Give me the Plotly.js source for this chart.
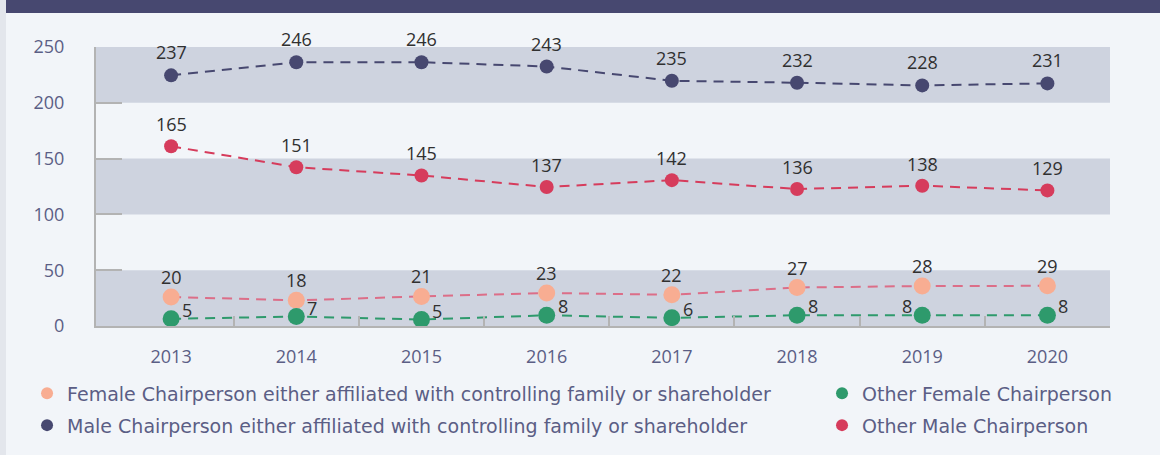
<!DOCTYPE html>
<html>
<head>
<meta charset="utf-8">
<script src="https://cdn.plot.ly/plotly-3.0.1.min.js"></script>
<style>
  html, body { margin: 0; padding: 0; background: #f2f5f9; }
  #wrap { position: relative; width: 1160px; height: 455px; overflow: hidden; background: #f2f5f9; }
  #strip { position: absolute; left: 0; top: 0; width: 6px; height: 455px; background: #e3e6ec; z-index: 2; }
  #bar { position: absolute; left: 6px; top: 0; width: 1154px; height: 13px; background: #474870; z-index: 2; }
  #chart { position: absolute; left: 0; top: 0; width: 1160px; height: 455px; }
</style>
</head>
<body>
<div id="wrap">
  <div id="chart"></div>
  <div id="strip"></div>
  <div id="bar"></div>
</div>
<script>
// ---- data ----
const years = ['2013', '2014', '2015', '2016', '2017', '2018', '2019', '2020'];

// printed value labels
const femaleAffLabels   = [20, 18, 21, 23, 22, 27, 28, 29];
const otherFemaleLabels = [5, 7, 5, 8, 6, 8, 8, 8];
const maleAffLabels     = [237, 246, 246, 243, 235, 232, 228, 231];
const otherMaleLabels   = [165, 151, 145, 137, 142, 136, 138, 129];

// heights at which the points are drawn
const femaleAffPlotted   = [26, 23, 26.5, 29.6, 28, 34.5, 35.8, 36];
const otherFemalePlotted = [6.4, 8.5, 5.8, 9.6, 7.3, 9.6, 9.6, 9.6];
const maleAffPlotted     = [224.6, 236.4, 236.4, 232.5, 219.7, 218, 215.6, 217.4];
const otherMalePlotted   = [161, 142.3, 134.9, 124.5, 130.7, 122.7, 125.7, 121.5];

const seriesNames = [
  'Female Chairperson either affiliated with controlling family or shareholder',
  'Other Female Chairperson',
  'Male Chairperson either affiliated with controlling family or shareholder',
  'Other Male Chairperson'
];

const yTicks = [0, 50, 100, 150, 200, 250];
const bands = [[0, 50], [100, 150], [200, 250]];

// ---- build ----
const idx = years.map((_, i) => i);
const FONT = 'Open Sans, Lato, sans-serif';
const LEGEND_FONT = 'DejaVu Sans, Open Sans, sans-serif';

function lineTrace(vals, color) {
  return {
    x: idx, y: vals, mode: 'lines', type: 'scatter',
    line: { color: color, width: 2, dash: '10px,7px' },
    hoverinfo: 'skip', showlegend: false
  };
}
function markTrace(vals, name, color, size, legendId) {
  return {
    x: idx, y: vals, mode: 'markers', type: 'scatter', name: name,
    marker: { color: color, size: size },
    cliponaxis: false, legend: legendId
  };
}

const data = [
  lineTrace(femaleAffPlotted, '#dc6e88'),
  lineTrace(otherFemalePlotted, '#2e9a6c'),
  lineTrace(maleAffPlotted, '#474870'),
  lineTrace(otherMalePlotted, '#d63c5c'),
  markTrace(femaleAffPlotted, seriesNames[0], '#f8ad92', 17, 'legend'),
  markTrace(otherFemalePlotted, seriesNames[1], '#2e9a6c', 17, 'legend2'),
  markTrace(maleAffPlotted, seriesNames[2], '#474870', 14, 'legend3'),
  markTrace(otherMalePlotted, seriesNames[3], '#d63c5c', 14, 'legend4'),
  { x: [0], y: [0], xaxis: 'x2', mode: 'markers', marker: { opacity: 0 }, hoverinfo: 'skip', showlegend: false }
];

const labelFont = { family: FONT, size: 18, color: '#303030' };
function aboveLabels(vals, labels, lift) {
  return labels.map((v, i) => ({
    x: i, y: vals[i], xref: 'x', yref: 'y', text: String(v), showarrow: false,
    xanchor: 'center', yanchor: 'middle', yshift: lift, font: labelFont
  }));
}
// green labels sit to the right of (left of, for 2019) the point, slightly raised
const greenLabels = otherFemaleLabels.map((v, i) => ({
  x: i, y: otherFemalePlotted[i], xref: 'x', yref: 'y',
  text: String(v), showarrow: false,
  xanchor: i === 6 ? 'right' : 'left', yanchor: 'middle',
  xshift: i === 6 ? -8 : 9, yshift: 9, font: labelFont
}));

const annotations = []
  .concat(aboveLabels(maleAffPlotted, maleAffLabels, 23))
  .concat(aboveLabels(otherMalePlotted, otherMaleLabels, 22))
  .concat(aboveLabels(femaleAffPlotted, femaleAffLabels, 20))
  .concat(greenLabels);

const shapes = bands.map(b => ({
  type: 'rect', xref: 'paper', yref: 'y', x0: 0, x1: 1, y0: b[0], y1: b[1],
  fillcolor: '#ced3df', line: { width: 0 }, layer: 'below'
}));

const xRange = [-0.6, years.length - 0.5];

function legendAt(x, y) {
  return {
    orientation: 'h', xanchor: 'left', yanchor: 'middle', x: x, y: y,
    itemsizing: 'constant',
    font: { family: LEGEND_FONT, size: 19, color: '#5b5e85' }, bgcolor: 'rgba(0,0,0,0)'
  };
}

const layout = {
  width: 1160, height: 455,
  margin: { l: 96, r: 50, t: 47, b: 128 },
  paper_bgcolor: 'rgba(0,0,0,0)', plot_bgcolor: 'rgba(0,0,0,0)',
  showlegend: true,
  xaxis: {
    range: xRange, tickmode: 'array', tickvals: idx, ticktext: years,
    ticks: '', showgrid: false, zeroline: false,
    showline: true, linecolor: '#b3b3b3', linewidth: 2,
    tickfont: { family: FONT, size: 18, color: '#5b5e85' },
    ticklabelstandoff: 13, fixedrange: true, automargin: false
  },
  xaxis2: {
    overlaying: 'x', anchor: 'y', side: 'bottom', range: xRange,
    tickmode: 'array', tickvals: years.map((_, i) => i + 0.5),
    ticks: 'inside', ticklen: 10, tickwidth: 2, tickcolor: '#b3b3b3',
    showticklabels: false, showgrid: false, zeroline: false, showline: false
  },
  yaxis: {
    range: [0, 250], tickmode: 'array', tickvals: yTicks,
    ticks: 'inside', ticklen: 26, tickwidth: 2, tickcolor: '#b3b3b3',
    showline: true, linecolor: '#b3b3b3', linewidth: 2,
    showgrid: false, zeroline: false,
    tickfont: { family: FONT, size: 18, color: '#5b5e85' },
    ticklabelstandoff: 26, fixedrange: true, automargin: false
  },
  legend: legendAt(-0.068, -0.237),
  legend2: legendAt(0.716, -0.237),
  legend3: legendAt(-0.068, -0.351),
  legend4: legendAt(0.716, -0.351),
  shapes: shapes,
  annotations: annotations
};

Plotly.newPlot('chart', data, layout, { displayModeBar: false, staticPlot: true });
</script>
</body>
</html>
